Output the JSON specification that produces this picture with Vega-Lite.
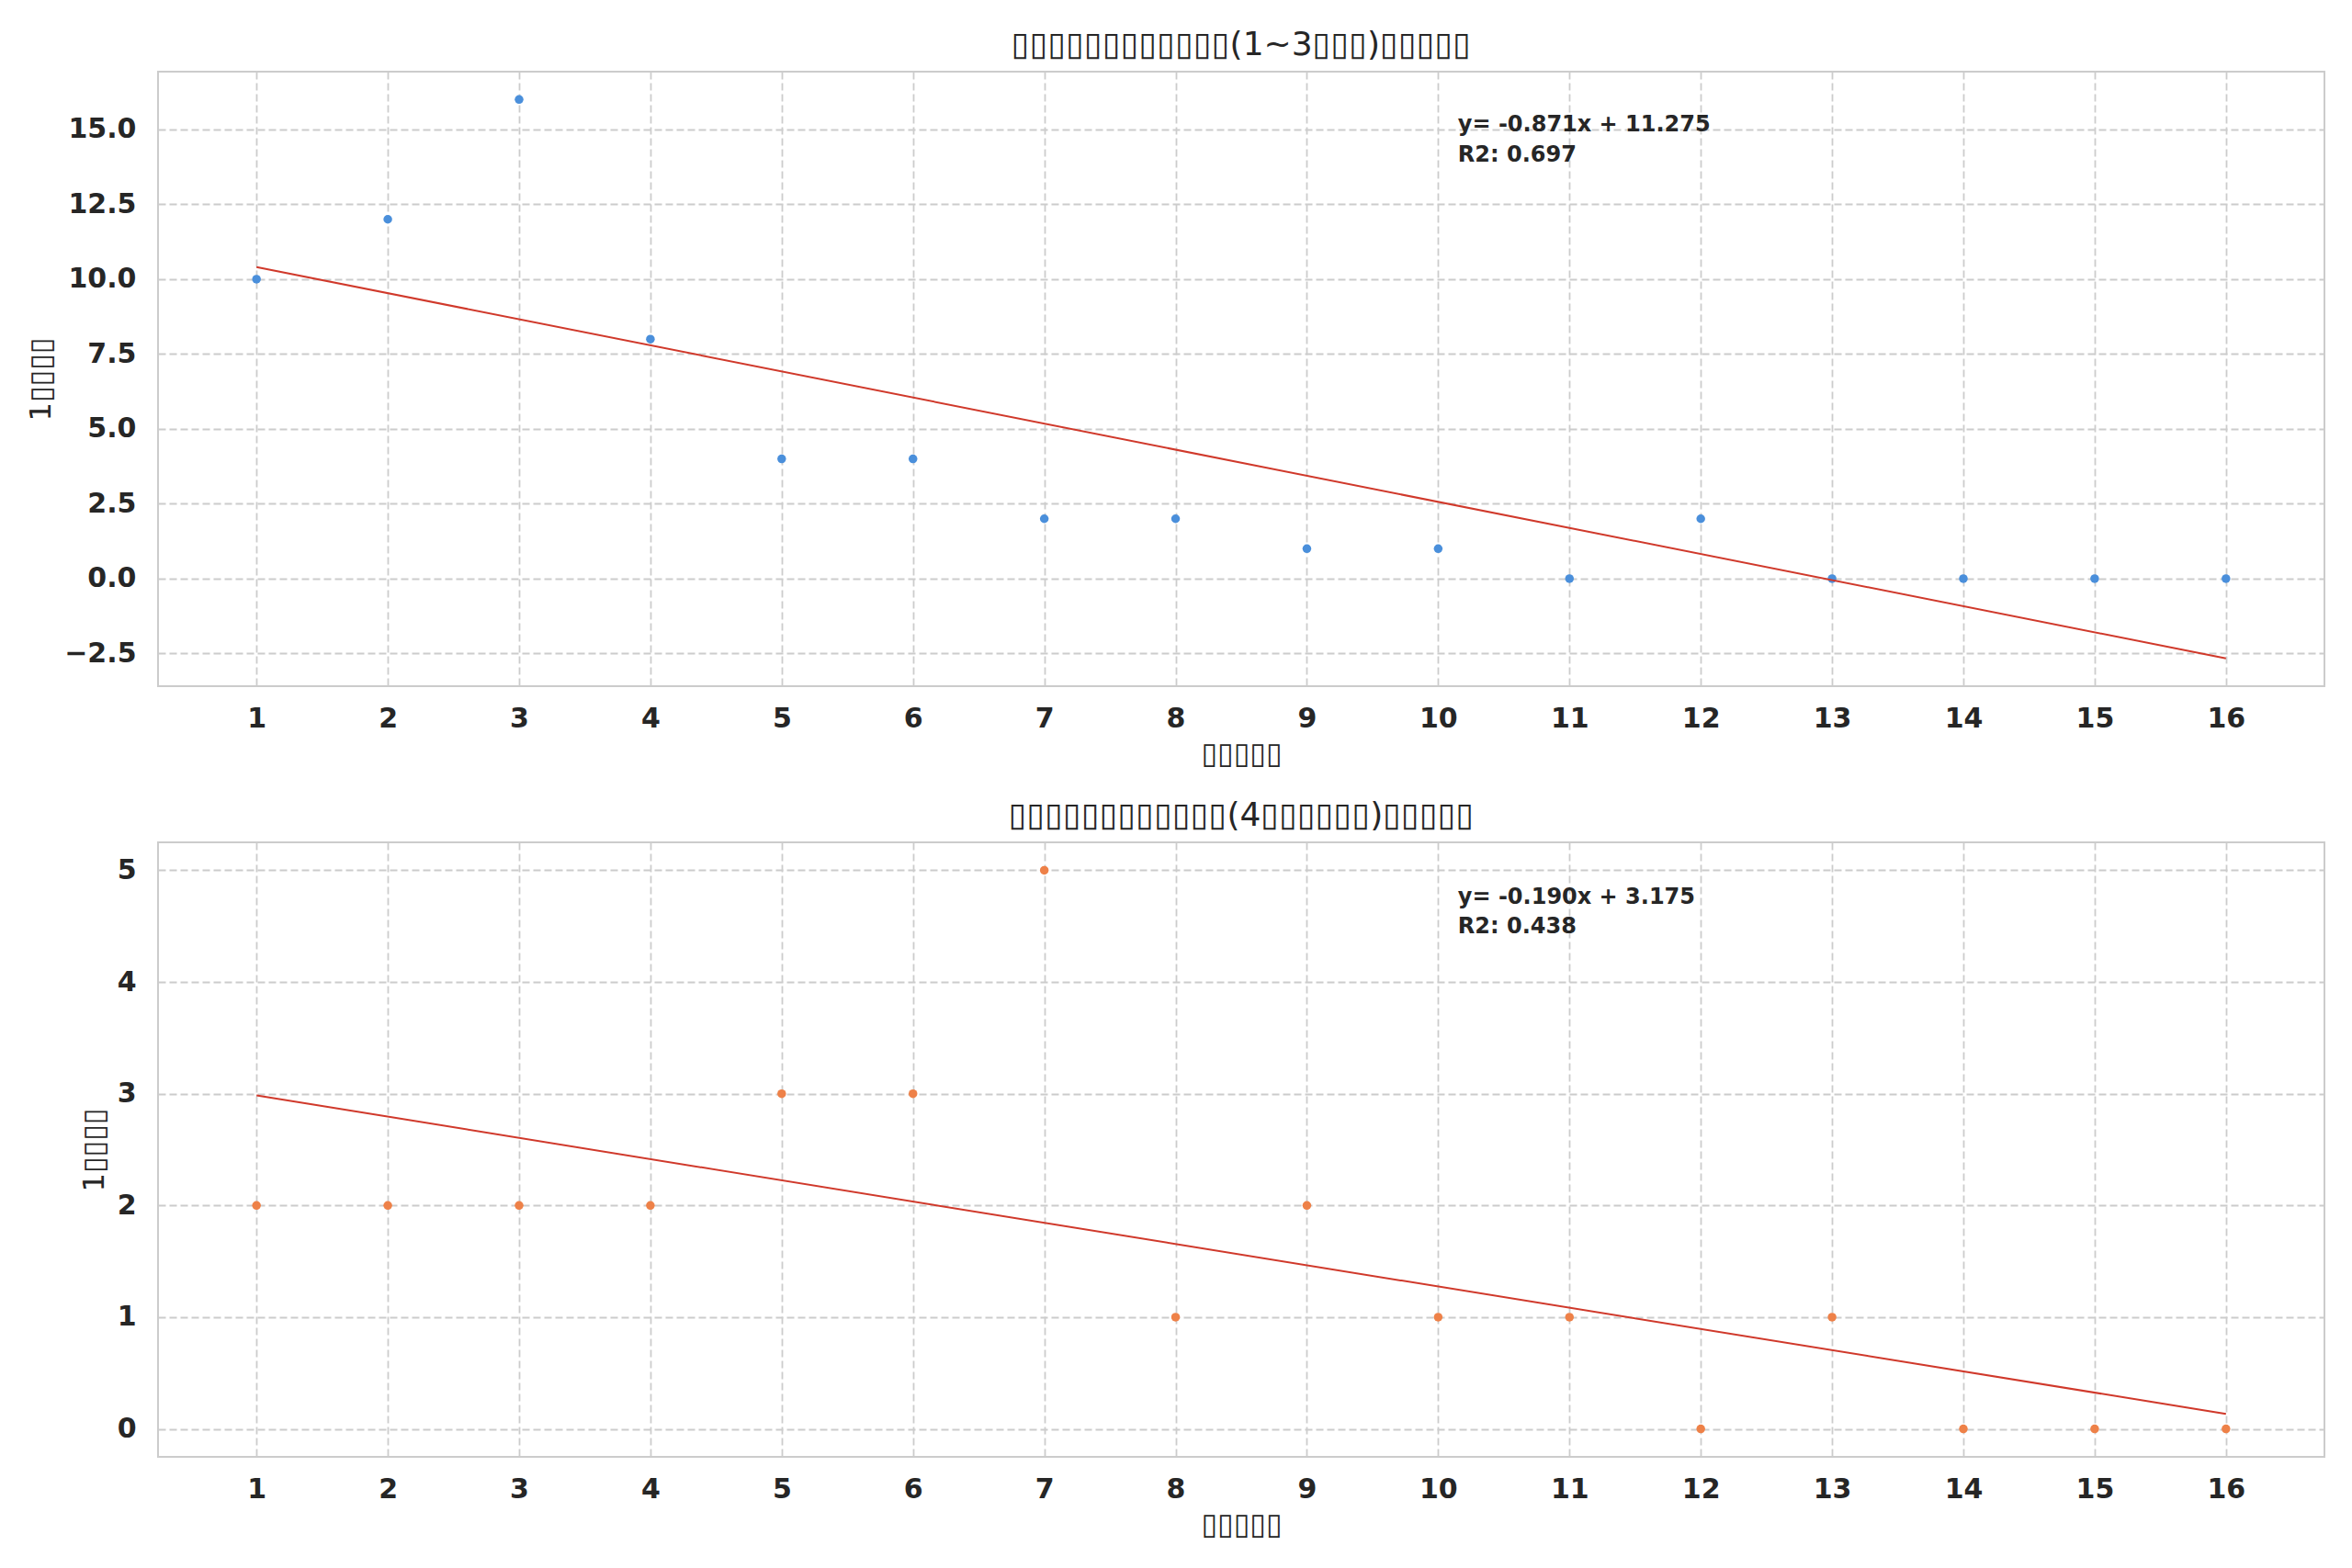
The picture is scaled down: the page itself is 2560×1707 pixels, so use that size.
{
  "$schema": "https://vega.github.io/schema/vega-lite/v6.json",
  "background": "white",
  "padding": {"left": 27, "top": 30, "right": 30, "bottom": 20},
  "datasets": {
    "top_pts": [
      {"week": 1, "count": 10}, {"week": 2, "count": 12}, {"week": 3, "count": 16}, {"week": 4, "count": 8},
      {"week": 5, "count": 4}, {"week": 6, "count": 4}, {"week": 7, "count": 2}, {"week": 8, "count": 2},
      {"week": 9, "count": 1}, {"week": 10, "count": 1}, {"week": 11, "count": 0}, {"week": 12, "count": 2},
      {"week": 13, "count": 0}, {"week": 14, "count": 0}, {"week": 15, "count": 0}, {"week": 16, "count": 0}
    ],
    "top_fit": [{"week": 1, "fit": 10.404}, {"week": 16, "fit": -2.661}],
    "top_note": [
      {"week": 10.15, "y": 15.15, "label": "y= -0.871x + 11.275"},
      {"week": 10.15, "y": 14.14, "label": "R2: 0.697"}
    ],
    "bot_pts": [
      {"week": 1, "count": 2}, {"week": 2, "count": 2}, {"week": 3, "count": 2}, {"week": 4, "count": 2},
      {"week": 5, "count": 3}, {"week": 6, "count": 3}, {"week": 7, "count": 5}, {"week": 8, "count": 1},
      {"week": 9, "count": 2}, {"week": 10, "count": 1}, {"week": 11, "count": 1}, {"week": 12, "count": 0},
      {"week": 13, "count": 1}, {"week": 14, "count": 0}, {"week": 15, "count": 0}, {"week": 16, "count": 0}
    ],
    "bot_fit": [{"week": 1, "fit": 2.985}, {"week": 16, "fit": 0.135}],
    "bot_note": [
      {"week": 10.15, "y": 4.76, "label": "y= -0.190x + 3.175"},
      {"week": 10.15, "y": 4.49, "label": "R2: 0.438"}
    ]
  },
  "spacing": 32,
  "vconcat": [
    {
      "title": "▯▯▯▯▯▯▯▯▯▯▯▯(1~3▯▯▯)▯▯▯▯▯",
      "width": 2358,
      "height": 669,
      "layer": [
        {
          "data": {"name": "top_pts"},
          "mark": {"type": "point", "filled": true, "opacity": 1, "size": 90, "color": "#4a8fdb"},
          "encoding": {
            "x": {"field": "week", "type": "quantitative", "scale": {"domain": [0.25, 16.75], "nice": false, "zero": false},
                  "axis": {"values": [1,2,3,4,5,6,7,8,9,10,11,12,13,14,15,16], "format": "d", "title": "▯▯▯▯▯"}},
            "y": {"field": "count", "type": "quantitative", "scale": {"domain": [-3.59, 16.93], "nice": false, "zero": false},
                  "axis": {"values": [-2.5, 0, 2.5, 5, 7.5, 10, 12.5, 15], "format": ".1f", "title": "1▯▯▯▯"}}
          }
        },
        {
          "data": {"name": "top_fit"},
          "mark": {"type": "line", "color": "#d0392b", "strokeWidth": 2},
          "encoding": {
            "x": {"field": "week", "type": "quantitative"},
            "y": {"field": "fit", "type": "quantitative"}
          }
        },
        {
          "data": {"name": "top_note"},
          "mark": {"type": "text", "align": "left", "baseline": "middle", "fontWeight": "bold", "fontSize": 24, "color": "#262626"},
          "encoding": {
            "x": {"field": "week", "type": "quantitative"},
            "y": {"field": "y", "type": "quantitative"},
            "text": {"field": "label"}
          }
        }
      ]
    },
    {
      "title": "▯▯▯▯▯▯▯▯▯▯▯▯(4▯▯▯▯▯▯)▯▯▯▯▯",
      "width": 2358,
      "height": 669,
      "layer": [
        {
          "data": {"name": "bot_pts"},
          "mark": {"type": "point", "filled": true, "opacity": 1, "size": 90, "color": "#ee8148"},
          "encoding": {
            "x": {"field": "week", "type": "quantitative", "scale": {"domain": [0.25, 16.75], "nice": false, "zero": false},
                  "axis": {"values": [1,2,3,4,5,6,7,8,9,10,11,12,13,14,15,16], "format": "d", "title": "▯▯▯▯▯"}},
            "y": {"field": "count", "type": "quantitative", "scale": {"domain": [-0.25, 5.25], "nice": false, "zero": false},
                  "axis": {"values": [0, 1, 2, 3, 4, 5], "format": "d", "title": "1▯▯▯▯"}}
          }
        },
        {
          "data": {"name": "bot_fit"},
          "mark": {"type": "line", "color": "#d0392b", "strokeWidth": 2},
          "encoding": {
            "x": {"field": "week", "type": "quantitative"},
            "y": {"field": "fit", "type": "quantitative"}
          }
        },
        {
          "data": {"name": "bot_note"},
          "mark": {"type": "text", "align": "left", "baseline": "middle", "fontWeight": "bold", "fontSize": 24, "color": "#262626"},
          "encoding": {
            "x": {"field": "week", "type": "quantitative"},
            "y": {"field": "y", "type": "quantitative"},
            "text": {"field": "label"}
          }
        }
      ]
    }
  ],
  "config": {
    "font": "DejaVu Sans",
    "view": {"stroke": "#cccccc", "strokeWidth": 2},
    "axis": {
      "grid": true,
      "gridColor": "#cccccc",
      "gridDash": [8, 4],
      "gridWidth": 1.8,
      "domain": false,
      "ticks": false,
      "labelFont": "DejaVu Sans",
      "labelFontWeight": "bold",
      "labelFontSize": 30,
      "labelColor": "#262626",
      "titleFont": "DejaVu Sans",
      "titleFontWeight": "normal",
      "titleFontSize": 32,
      "titleColor": "#262626",
      "titlePadding": 8
    },
    "axisX": {"labelPadding": 20},
    "axisY": {"labelPadding": 24},
    "title": {"font": "DejaVu Sans", "fontSize": 36, "fontWeight": "normal", "color": "#262626", "offset": 10}
  }
}
